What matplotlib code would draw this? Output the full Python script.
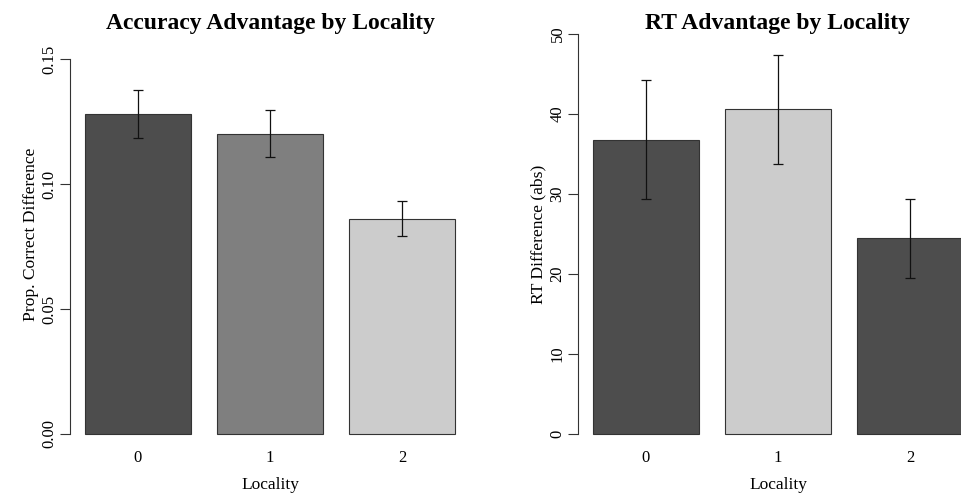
import matplotlib.pyplot as plt

plt.rcParams["font.family"] = ["Liberation Serif", "DejaVu Serif"]

localities = ["0", "1", "2"]

acc_means = [0.128, 0.120, 0.086]
acc_lo = [0.1184, 0.1108, 0.0792]
acc_hi = [0.1376, 0.1296, 0.0932]
acc_colors = ["#4d4d4d", "#7f7f7f", "#cccccc"]

rt_means = [36.8, 40.6, 24.5]
rt_lo = [29.4, 33.8, 19.5]
rt_hi = [44.2, 47.4, 29.4]
rt_colors = ["#4d4d4d", "#cccccc", "#4d4d4d"]

W, H = 962, 495
fig = plt.figure(figsize=(W / 100, H / 100), dpi=100)

# barplot-style positions: width 1, space 0.2
centers = [0.7, 1.9, 3.1]


def panel(ax, means, lo, hi, colors, ylim, yticks, yticklabels, title, ylabel):
    ax.bar(centers, means, width=0.965, color=colors, edgecolor="#333333",
           linewidth=0.8, zorder=2)
    yerr = [[m - l for m, l in zip(means, lo)], [h - m for m, h in zip(means, hi)]]
    ax.errorbar(centers, means, yerr=yerr, fmt="none", ecolor="#111111",
                elinewidth=0.9, capsize=3.5, capthick=0.9, zorder=3)
    ax.set_xlim(0.082, 3.718)
    rng = ylim[1] - ylim[0]
    ax.set_ylim(ylim[0] - 0.04 * rng, ylim[1] + 0.04 * rng)
    for s in ["top", "right", "bottom"]:
        ax.spines[s].set_visible(False)
    ax.spines["left"].set_bounds(yticks[0], yticks[-1])
    ax.spines["left"].set_color("#333333")
    ax.spines["left"].set_linewidth(0.8)
    ax.set_yticks(yticks)
    ax.set_yticklabels(yticklabels, rotation=90, va="center")
    ax.tick_params(axis="y", length=7, width=0.8, color="#333333", pad=2,
                   labelsize=12)
    ax.set_xticks(centers)
    ax.set_xticklabels(localities)
    ax.tick_params(axis="x", length=0, pad=0, labelsize=12)
    ax.set_xlabel("Locality", fontsize=12.5, labelpad=8)
    ax.set_ylabel(ylabel, fontsize=12.6, labelpad=2)
    ax.text(0.5, 1.0 - 5 / 432, title, transform=ax.transAxes, ha="center",
            va="center", fontsize=17, fontweight="bold")


bottom = (H - 450) / H
height = 432 / H
ax1 = fig.add_axes([70 / W, bottom, 400 / W, height])
ax2 = fig.add_axes([578 / W, bottom, 400 / W, height])

panel(ax1, acc_means, acc_lo, acc_hi, acc_colors, (0, 0.16),
      [0, 0.05, 0.10, 0.15], ["0.00", "0.05", "0.10", "0.15"],
      "Accuracy Advantage by Locality", "Prop. Correct Difference")
panel(ax2, rt_means, rt_lo, rt_hi, rt_colors, (0, 50),
      [0, 10, 20, 30, 40, 50], ["0", "10", "20", "30", "40", "50"],
      "RT Advantage by Locality", "RT Difference (abs)")

fig.savefig("out.png", dpi=100)
